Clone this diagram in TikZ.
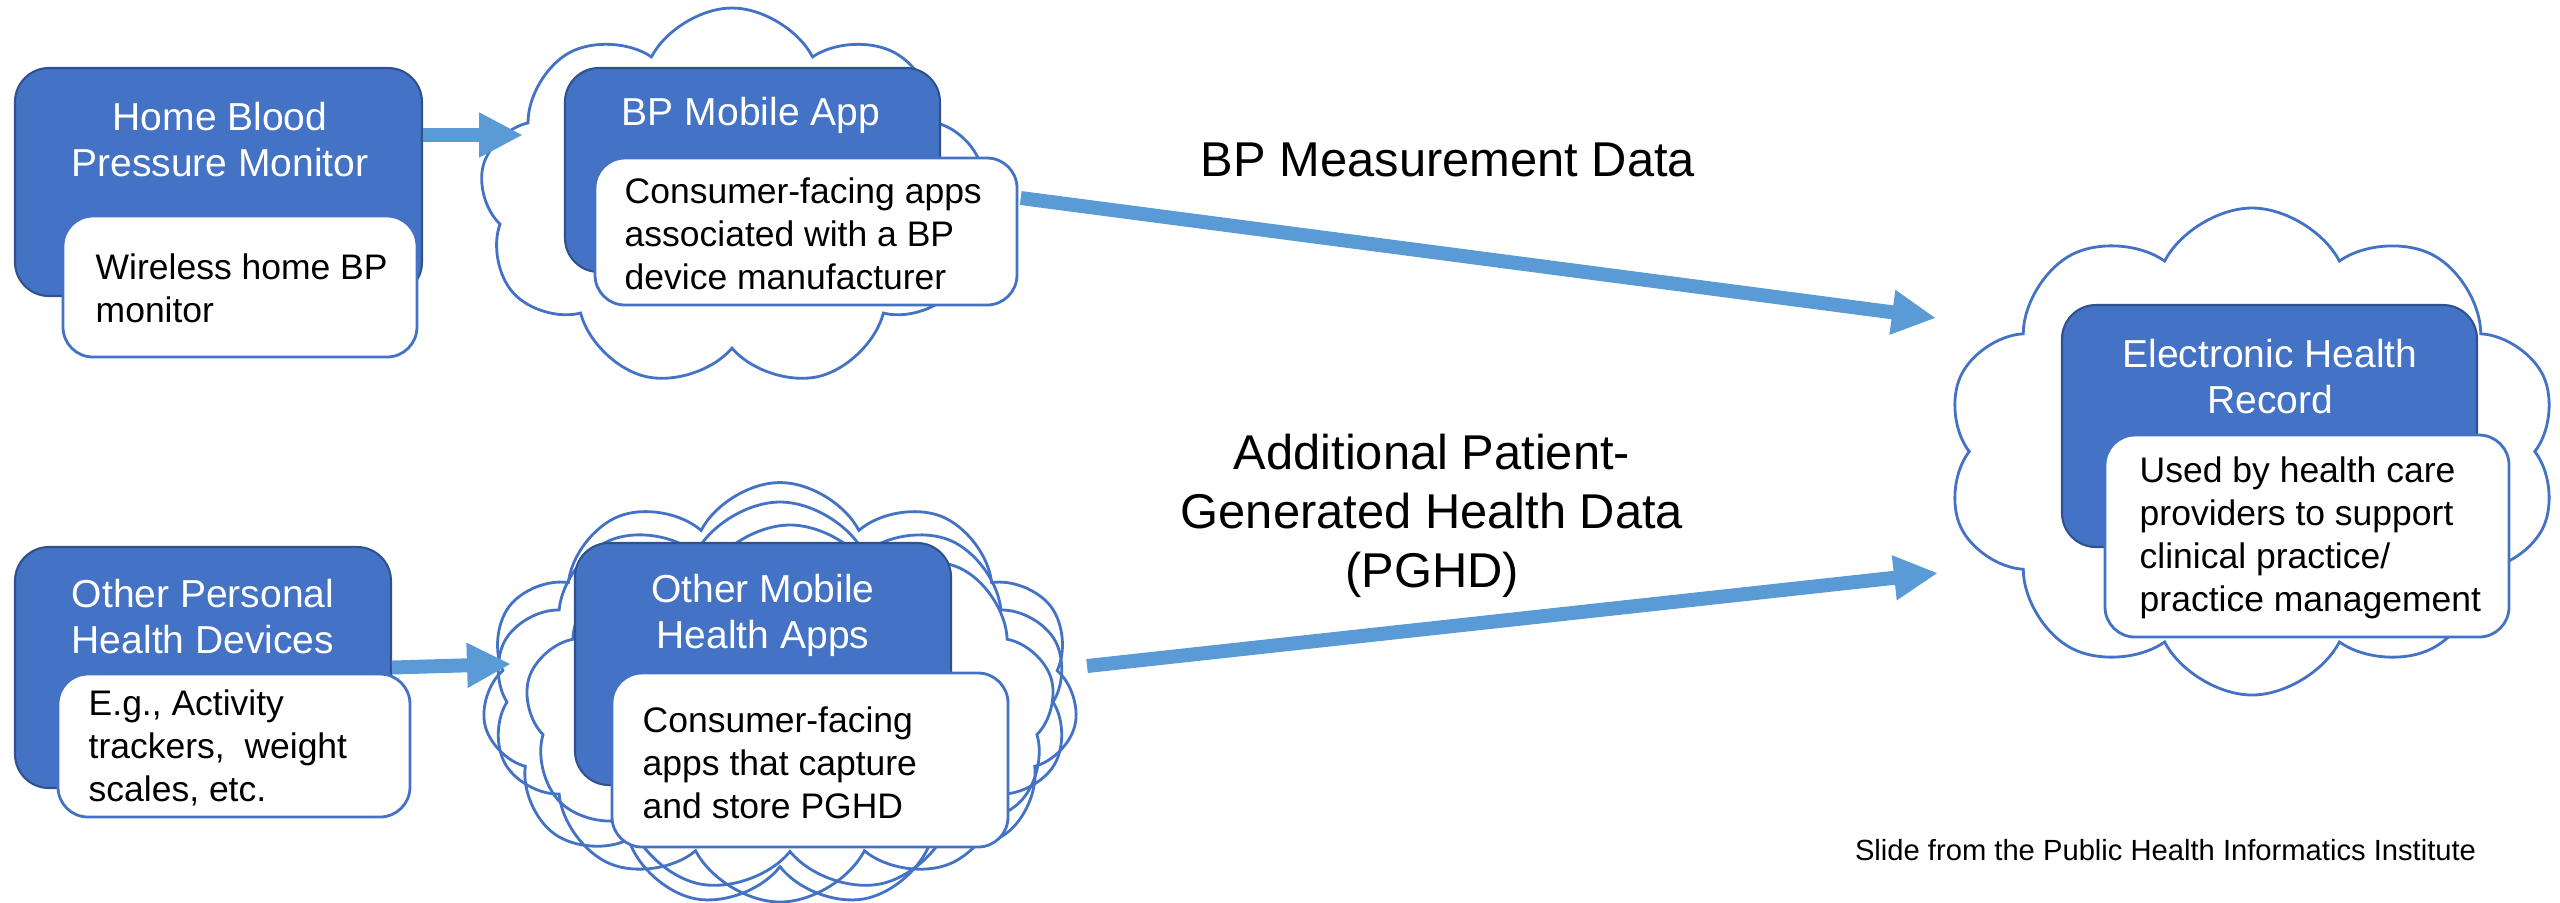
\documentclass[tikz,border=0pt]{standalone}
\usepackage{fontspec}
\setmainfont{Liberation Sans}
\usepackage{tikz}
\usetikzlibrary{shapes.symbols, arrows.meta, positioning, calc}
\definecolor{officeblue}{HTML}{4472C4}
\definecolor{officeedge}{HTML}{2F528F}
\definecolor{flowblue}{HTML}{5B9BD5}

\tikzset{
  devicebox/.style={draw=officeedge, line width=0.6pt, fill=officeblue, rounded corners=0.34cm, inner sep=0pt},
  detailbox/.style={draw=officeblue, line width=0.8pt, fill=white, rounded corners=0.3cm, inner sep=0pt},
  puffcloud/.style={cloud, cloud puffs=9, cloud puff arc=125, cloud ignores aspect, draw=officeblue, line width=0.8pt, inner sep=0pt},
  flowarrow/.style={flowblue, line width=0.14cm, -{Triangle[length=0.44cm, width=0.42cm]}},
  titletext/.style={white, font=\fontsize{11.1}{13.1}\selectfont, align=center, inner sep=0pt},
  bodytext/.style={black, font=\fontsize{10.1}{12.2}\selectfont, align=left, inner sep=0pt, anchor=west},
  datalabel/.style={black, font=\fontsize{13.9}{16.8}\selectfont, align=center, inner sep=0pt}
}

\begin{document}
\begin{tikzpicture}
  % Canvas
  \useasboundingbox (0,0) rectangle (25.6,-9.02);

  % Clouds
  \node[puffcloud, fill=white, minimum width=5.05cm, minimum height=3.80cm] (cloudA) at (7.32,-1.98) {};
  \node[puffcloud, fill=white, minimum width=5.96cm, minimum height=4.25cm, cloud puffs=11] (cloudB) at (7.80,-6.95) {};
  \node[puffcloud, minimum width=5.78cm, minimum height=4.00cm, cloud puffs=10] (cloudB2) at (7.80,-7.02) {};
  \node[puffcloud, minimum width=5.30cm, minimum height=3.70cm] (cloudB3) at (7.90,-7.10) {};
  \node[puffcloud, fill=white, minimum width=6.13cm, minimum height=4.87cm, cloud puffs=10] (cloudC) at (22.52,-4.515) {};

  % Top row: monitor and BP app
  \node[devicebox, minimum width=4.07cm, minimum height=2.28cm] (hbpm) at (2.185,-1.82) {};
  \node[titletext] (hbpmtitle) at (2.20,-1.40) {Home Blood\\Pressure Monitor};
  \node[detailbox, minimum width=3.54cm, minimum height=1.41cm] (hbpmdet) at (2.40,-2.865) {};
  \node[bodytext] (hbpmtxt) at (0.95,-2.885) {Wireless home BP\\monitor};

  \node[devicebox, minimum width=3.75cm, minimum height=2.04cm] (bpapp) at (7.525,-1.70) {};
  \node[titletext] (bpapptitle) at (7.51,-1.15) {BP Mobile App};
  \node[detailbox, minimum width=4.22cm, minimum height=1.47cm] (bpappdet) at (8.06,-2.315) {};
  \node[bodytext] (bpapptxt) at (6.24,-2.34) {Consumer-facing apps\\associated with a BP\\device manufacturer};

  % Bottom row: other devices and apps
  \node[devicebox, minimum width=3.76cm, minimum height=2.41cm] (ophd) at (2.03,-6.675) {};
  \node[titletext] (ophdtitle) at (2.03,-6.165) {Other Personal\\Health Devices};
  \node[detailbox, minimum width=3.52cm, minimum height=1.43cm] (ophddet) at (2.34,-7.455) {};
  \node[bodytext] (ophdtxt) at (0.88,-7.48) {E.g., Activity\\trackers,~ weight\\scales, etc.};

  \node[devicebox, minimum width=3.76cm, minimum height=2.42cm] (omha) at (7.63,-6.64) {};
  \node[titletext] (omhatitle) at (7.63,-6.15) {Other Mobile\\Health Apps};
  \node[detailbox, minimum width=3.96cm, minimum height=1.74cm] (omhadet) at (8.10,-7.60) {};
  \node[bodytext] (omhatxt) at (6.42,-7.63) {Consumer-facing\\apps that capture\\and store PGHD};

  % EHR
  \node[devicebox, minimum width=4.15cm, minimum height=2.42cm] (ehr) at (22.695,-4.26) {};
  \node[titletext] (ehrtitle) at (22.70,-3.765) {Electronic Health\\Record};
  \node[detailbox, minimum width=4.04cm, minimum height=2.02cm] (ehrdet) at (23.07,-5.36) {};
  \node[bodytext] (ehrtxt) at (21.39,-5.38) {Used by health care\\providers to support\\clinical practice/\\practice management};

  % Data flows
  \coordinate (bpin) at (5.23,-1.35);
  \coordinate (ohin) at (5.11,-6.64);
  \coordinate (ehrin1) at (19.36,-3.18);
  \coordinate (ehrin2) at (19.38,-5.73);
  \draw[flowarrow] (hbpm.east |- bpin) -- (bpin);
  \draw[flowarrow] (ophd.east) -- (ohin);
  \draw[flowarrow] ([xshift=0.39cm]cloudA.east) -- (ehrin1);
  \draw[flowarrow] ([shift={(0.12,0.29)}]cloudB.east) -- (ehrin2);

  % Flow labels
  \node[datalabel] (bpdata) at (14.48,-1.60) {BP Measurement Data};
  \node[datalabel] (pghd) at (14.32,-5.16) {Additional Patient-\\Generated Health Data\\(PGHD)};
  \node[font=\fontsize{8.3}{10}\selectfont, inner sep=0pt] (credit) at (21.655,-8.50) {Slide from the Public Health Informatics Institute};
\end{tikzpicture}
\end{document}
